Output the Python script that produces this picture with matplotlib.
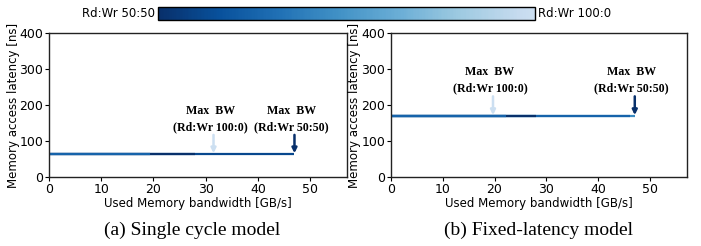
import matplotlib
matplotlib.use('Agg')
import matplotlib.pyplot as plt
import matplotlib.colors as mcolors
import matplotlib.colorbar as mcolorbar
import numpy as np

# Visible line traces (drawn in this order, later ones cover earlier ones)
# shade: 0 = Rd:Wr 50:50 (dark), 1 = Rd:Wr 100:0 (light)
single_latency = 64
single_end_bw = [47, 28, 19.4]
single_shade = [0.12, 0.0, 0.25]
single_maxbw_100 = 31.5
single_maxbw_5050 = 47

fixed_latency = 170
fixed_end_bw = [47, 46, 28, 22.2]
fixed_shade = [0.45, 0.25, 0.0, 0.25]
fixed_maxbw_100 = 19.7
fixed_maxbw_5050 = 47

xlim_max = 57
y_ticks = [0, 100, 200, 300, 400]
x_ticks = [0, 10, 20, 30, 40, 50]

captions = ['(a) Single cycle model', '(b) Fixed-latency model']

# Blues cmap truncated, reversed: dark (50:50) -> light (100:0)
base = plt.get_cmap('Blues')
cmap = mcolors.LinearSegmentedColormap.from_list(
    'blues_trunc', base(np.linspace(1.0, 0.22, 256)))

fig = plt.figure(figsize=(7.01, 2.46), dpi=100)

axL = fig.add_axes([49 / 701, 69 / 246, 297.7 / 701, 144 / 246])
axR = fig.add_axes([390.7 / 701, 69 / 246, 296 / 701, 144 / 246])


def draw_panel(ax, latency, end_bw, shade, bw100, bw5050, text_y, arrow_top):
    for e, s in zip(end_bw, shade):
        ax.plot([0, e], [latency, latency], color=cmap(s), lw=1.6,
                solid_capstyle='butt')
    ax.set_xlim(0, xlim_max)
    ax.set_ylim(0, 400)
    ax.set_xticks(x_ticks)
    ax.set_yticks(y_ticks)
    ax.tick_params(labelsize=9, length=3, pad=1)
    ax.set_xlabel('Used Memory bandwidth [GB/s]', fontsize=8.5, labelpad=1)
    ax.set_ylabel('Memory access latency [ns]', fontsize=8.5, labelpad=0)
    for sp in ax.spines.values():
        sp.set_linewidth(1.0)
        sp.set_color('#222222')
    for bw, s, lbl in [(bw100, 1.0, '100:0'), (bw5050, 0.0, '50:50')]:
        ax.annotate('', xy=(bw, latency + 2), xytext=(bw, arrow_top),
                    arrowprops=dict(arrowstyle='-|>', color=cmap(s), lw=1.8,
                                    mutation_scale=7, shrinkA=0, shrinkB=0))
        ax.text(bw - 0.6, text_y, 'Max  BW\n(Rd:Wr %s)' % lbl,
                ha='center', va='bottom', fontsize=8.6, fontweight='bold',
                family='Liberation Serif', linespacing=1.45)


draw_panel(axL, single_latency, single_end_bw, single_shade,
           single_maxbw_100, single_maxbw_5050, 121, 117)
draw_panel(axR, fixed_latency, fixed_end_bw, fixed_shade,
           fixed_maxbw_100, fixed_maxbw_5050, 231, 224)

# colorbar on top
cax = fig.add_axes([158.3 / 701, (246 - 20) / 246, 376.7 / 701, 13.3 / 246])
cb = mcolorbar.ColorbarBase(cax, cmap=cmap, orientation='horizontal')
cb.set_ticks([])
cb.outline.set_linewidth(1.0)
fig.text(155 / 701, (246 - 13.5) / 246, 'Rd:Wr 50:50', ha='right', va='center',
         fontsize=8.5)
fig.text(538 / 701, (246 - 13.5) / 246, 'Rd:Wr 100:0', ha='left', va='center',
         fontsize=8.5)

fig.text(192 / 701, (246 - 230) / 246, captions[0], ha='center', va='center',
         fontsize=14, family='Liberation Serif')
fig.text(538 / 701, (246 - 230) / 246, captions[1], ha='center', va='center',
         fontsize=14, family='Liberation Serif')

fig.savefig('out.png', dpi=100)
